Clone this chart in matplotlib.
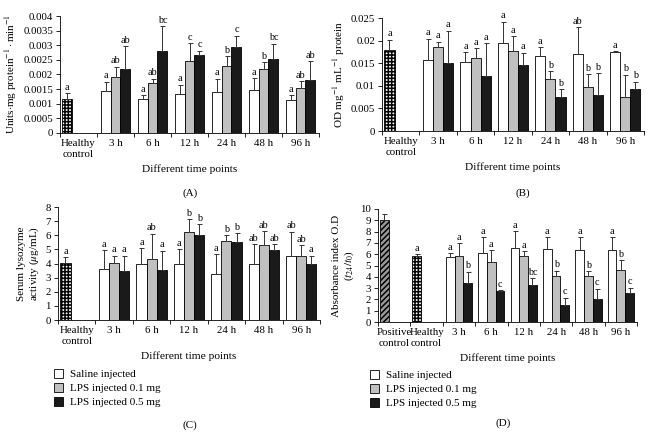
import numpy as np
import matplotlib
matplotlib.use("Agg")
import matplotlib.pyplot as plt
from matplotlib.patches import Patch

plt.rcParams['font.family'] = ['Liberation Serif', 'DejaVu Serif']
plt.rcParams['mathtext.fontset'] = 'stix'
plt.rcParams['hatch.linewidth'] = 1.1

times = ["3 h", "6 h", "12 h", "24 h", "48 h", "96 h"]
series_names = ["Saline injected", "LPS injected 0.1 mg", "LPS injected 0.5 mg"]
series_colors = ["white", "#c0c0c0", "#1a1a1a"]

# Panel A
a_ctrl = [0.00115]; a_ctrl_top = [0.00137]; a_ctrl_lab = ["a"]
a_vals = [[0.00143, 0.00117, 0.00133, 0.00140, 0.00148, 0.00113],
          [0.00190, 0.00172, 0.00246, 0.00228, 0.00218, 0.00155],
          [0.00220, 0.00280, 0.00268, 0.00293, 0.00253, 0.00180]]
a_top = [[0.00175, 0.00130, 0.00165, 0.00185, 0.00188, 0.00130],
         [0.00227, 0.00185, 0.00308, 0.00262, 0.00243, 0.00178],
         [0.00297, 0.00365, 0.00282, 0.00333, 0.00305, 0.00245]]
a_lab = [["a", "a", "a", "a", "a", "a"],
         ["ab", "ab", "c", "b", "b", "ab"],
         ["ab", "bc", "c", "c", "bc", "ab"]]

# Panel B
b_ctrl = [0.0180]; b_ctrl_top = [0.0202]; b_ctrl_lab = ["a"]
b_vals = [[0.0156, 0.0152, 0.0195, 0.0167, 0.0170, 0.0174],
          [0.0185, 0.0161, 0.0177, 0.0116, 0.0098, 0.0075],
          [0.0150, 0.0121, 0.0145, 0.0076, 0.0080, 0.0093]]
b_top = [[0.0204, 0.0175, 0.0242, 0.0186, 0.0230, 0.0177],
         [0.0198, 0.0183, 0.0210, 0.0133, 0.0126, 0.0125],
         [0.0222, 0.0194, 0.0173, 0.0093, 0.0128, 0.0109]]
b_lab = [["a", "a", "a", "a", "ab", "a"],
         ["a", "a", "a", "b", "b", "b"],
         ["a", "a", "a", "b", "b", "b"]]

# Panel C
c_ctrl = [4.05]; c_ctrl_top = [4.45]; c_ctrl_lab = ["a"]
c_vals = [[3.60, 4.00, 3.95, 3.25, 3.95, 4.50],
          [4.05, 4.30, 6.25, 5.60, 5.30, 4.55],
          [3.50, 3.55, 6.05, 5.55, 4.95, 4.00]]
c_top = [[4.95, 5.10, 5.00, 4.65, 5.35, 6.25],
         [4.55, 6.10, 7.15, 6.00, 6.30, 5.30],
         [4.55, 4.90, 6.80, 6.15, 5.35, 4.55]]
c_lab = [["a", "a", "a", "a", "ab", "ab"],
         ["a", "ab", "b", "b", "ab", "ab"],
         ["a", "a", "b", "b", "ab", "a"]]

# Panel D
d_pos = [9.05]; d_pos_top = [9.60]
d_ctrl = [5.80]; d_ctrl_top = [6.00]; d_ctrl_lab = ["a"]
d_vals = [[5.75, 6.15, 6.55, 6.45, 6.40, 6.40],
          [5.80, 5.35, 5.85, 4.10, 4.10, 4.60],
          [3.45, 2.70, 3.25, 1.50, 2.05, 2.60]]
d_top = [[6.10, 7.50, 8.05, 7.50, 7.50, 7.50],
         [7.00, 6.35, 6.25, 4.55, 4.50, 5.45],
         [4.45, 2.80, 3.90, 2.15, 2.95, 3.05]]
d_lab = [["a", "a", "a", "a", "a", "a"],
         ["a", "a", "a", "b", "b", "b"],
         ["b", "c", "bc", "c", "c", "c"]]

W, H = 655, 436
fig = plt.figure(figsize=(W / 100, H / 100), dpi=100)

def ax_px(l, r, b, t):
    return fig.add_axes([l / W, 1 - b / H, (r - l) / W, (b - t) / H])

BW = 0.27
LFS = 7.4
TFS = 7.8

def ebar(ax, x, v, top, lab, ymax, color):
    ax.bar(x, v, BW, color=color, edgecolor="black", linewidth=0.6, zorder=2)
    ax.errorbar(x, v, yerr=[[0], [top - v]], fmt="none", ecolor="#333333",
                elinewidth=0.7, capsize=1.8, capthick=0.7, zorder=3)
    if lab:
        ax.text(x, top + ymax * 0.012, lab, ha="center", va="bottom",
                fontsize=LFS, zorder=4)

def panel(ax, ctrl_cats, ctrls, vals, tops, labs, ymax, yticks, yticklabels, ylabel):
    ncat = len(ctrl_cats) + len(times)
    for i, (v, t, lab, style) in enumerate(ctrls):
        x = i - 0.3
        if style == "pos":
            ax.bar(x, v, BW, color="#9a9a9a", edgecolor="black", hatch="//////",
                   linewidth=0.6, zorder=2)
        else:
            ax.bar(x, v, BW, color="white", edgecolor="black", hatch="+++++",
                   linewidth=0.6, zorder=2)
        ax.errorbar(x, v, yerr=[[0], [t - v]], fmt="none", ecolor="#333333",
                    elinewidth=0.7, capsize=1.8, capthick=0.7, zorder=3)
        if lab:
            ax.text(x, t + ymax * 0.012, lab, ha="center", va="bottom", fontsize=LFS)
    off = len(ctrl_cats)
    for s in range(3):
        for j in range(len(times)):
            x = off + j + (s - 1) * BW
            ebar(ax, x, vals[s][j], tops[s][j], labs[s][j], ymax, series_colors[s])
    ax.set_xlim(-0.5, ncat - 0.5)
    ax.set_ylim(0, ymax)
    ax.set_yticks(yticks)
    ax.set_yticklabels(yticklabels, fontsize=TFS)
    ax.set_xticks(np.arange(ncat))
    ax.set_xticklabels(ctrl_cats + times, fontsize=TFS, linespacing=1.3)
    ax.set_xticks(np.arange(ncat + 1) - 0.5, minor=True)
    ax.tick_params(axis="x", which="major", length=0, pad=4)
    ax.tick_params(axis="x", which="minor", length=3, width=0.6, direction="out")
    ax.tick_params(axis="y", length=3, width=0.6, direction="out", pad=2)
    for sp in ["top", "right"]:
        ax.spines[sp].set_visible(False)
    for sp in ["left", "bottom"]:
        ax.spines[sp].set_linewidth(0.6)
    ax.set_xlabel("Different time points", fontsize=8.2, labelpad=4)
    ax.set_ylabel(ylabel, fontsize=8.0, labelpad=3)

# A
axA = ax_px(60, 319, 133, 16)
panel(axA, ["Healthy\ncontrol"], [(a_ctrl[0], a_ctrl_top[0], a_ctrl_lab[0], "hc")],
      a_vals, a_top, a_lab, 0.004,
      np.arange(0, 0.00401, 0.0005),
      ["0", "0.0005", "0.001", "0.0015", "0.002", "0.0025", "0.003", "0.0035", "0.004"],
      "Units$\\cdot$mg protein$^{-1}\\cdot$min$^{-1}$")
# B
axB = ax_px(382, 644, 131, 18)
panel(axB, ["Healthy\ncontrol"], [(b_ctrl[0], b_ctrl_top[0], b_ctrl_lab[0], "hc")],
      b_vals, b_top, b_lab, 0.025,
      np.arange(0, 0.02501, 0.005),
      ["0", "0.005", "0.01", "0.015", "0.02", "0.025"],
      "OD mg$^{-1}$ mL$^{-1}$ protein")
# C
axC = ax_px(58, 320, 320, 207)
panel(axC, ["Healthy\ncontrol"], [(c_ctrl[0], c_ctrl_top[0], c_ctrl_lab[0], "hc")],
      c_vals, c_top, c_lab, 8,
      np.arange(0, 9), [str(i) for i in range(9)],
      "Serum lysozyme\nactivity ($\\mu$g/mL)")
# D
axD = ax_px(378, 637, 322, 209)
panel(axD, ["Positive\ncontrol", "Healthy\ncontrol"],
      [(d_pos[0], d_pos_top[0], "", "pos"), (d_ctrl[0], d_ctrl_top[0], d_ctrl_lab[0], "hc")],
      d_vals, d_top, d_lab, 10,
      np.arange(0, 11), [str(i) for i in range(11)],
      "Absorbance index O.D\n($t_{24}/t_0$)")

# captions
for (x, y, s) in [(190, 193, "(A)"), (523, 193, "(B)"), (190, 425, "(C)"), (503, 423, "(D)")]:
    fig.text(x / W, 1 - y / H, s, ha="center", va="center", fontsize=8)

# legends
handles = [Patch(facecolor=c, edgecolor="black", linewidth=0.6) for c in series_colors]
for (x, y) in [(54, 369), (370, 370)]:
    fig.legend(handles, series_names, loc="upper left",
               bbox_to_anchor=(x / W, 1 - y / H), frameon=False, fontsize=8,
               handlelength=0.8, handleheight=0.8, handletextpad=0.6,
               labelspacing=0.35, borderaxespad=0, borderpad=0)

fig.savefig("out.png", dpi=100)
